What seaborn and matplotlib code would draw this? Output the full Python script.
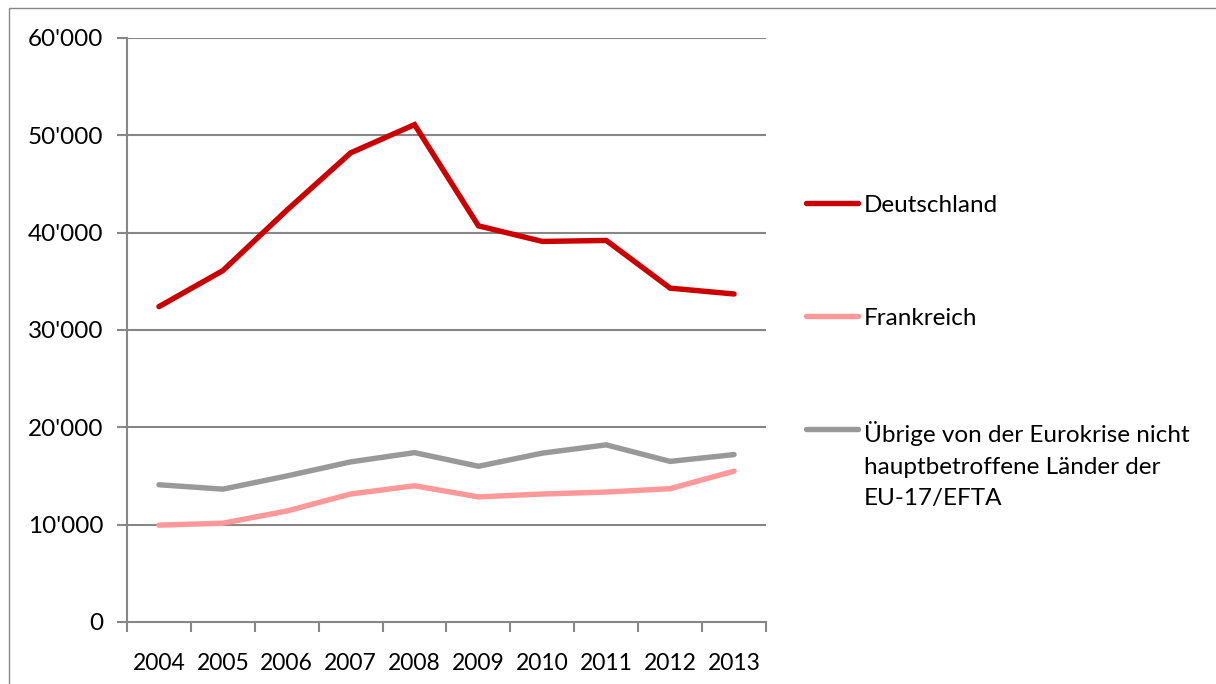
import matplotlib
matplotlib.use("Agg")
import matplotlib.pyplot as plt
from matplotlib.lines import Line2D
from matplotlib.patches import Rectangle
from matplotlib.ticker import FixedLocator, FuncFormatter
import numpy as np
import pandas as pd
import seaborn as sns

years = ["2004", "2005", "2006", "2007", "2008", "2009", "2010", "2011", "2012", "2013"]
deutschland = [32400, 36100, 42300, 48200, 51100, 40700, 39100, 39200, 34300, 33700]
frankreich = [9950, 10150, 11400, 13150, 14000, 12850, 13150, 13350, 13700, 15500]
uebrige = [14100, 13650, 15000, 16450, 17400, 16000, 17350, 18200, 16500, 17200]

series_names = [
    "Deutschland",
    "Frankreich",
    "Übrige von der Eurokrise nicht\nhauptbetroffene Länder der\nEU-17/EFTA",
]
series_values = [deutschland, frankreich, uebrige]
colors = ["#CC0000", "#FF9999", "#999999"]
y_ticks = [0, 10000, 20000, 30000, 40000, 50000, 60000]

sns.set_theme(style="white")
plt.rcParams["font.family"] = ["Lato", "DejaVu Sans"]

rows = []
for name, vals in zip(series_names, series_values):
    for i, v in enumerate(vals):
        rows.append({"pos": i, "value": v, "series": name})
df = pd.DataFrame(rows)

fig = plt.figure(figsize=(12.16, 6.84), dpi=100)
ax = fig.add_axes([127 / 1216, 1 - 622 / 684, (766 - 127) / 1216, (622 - 38) / 684])

grid_c = "#878787"
for t in y_ticks[1:]:
    ax.axhline(t, color=grid_c, lw=1.5, zorder=1)

sns.lineplot(data=df, x="pos", y="value", hue="series", hue_order=series_names,
             palette=colors, linewidth=3.9, ax=ax, legend=False, zorder=3,
             solid_capstyle="round", solid_joinstyle="miter")

ax.set_xlim(-0.5, len(years) - 0.5)
ax.set_ylim(0, 60000)
ax.xaxis.set_major_locator(FixedLocator(np.arange(-0.5, len(years), 1.0)))
ax.xaxis.set_minor_locator(FixedLocator(np.arange(len(years))))
ax.xaxis.set_major_formatter(FuncFormatter(lambda v, p: ""))
ax.xaxis.set_minor_formatter(FuncFormatter(lambda v, p: years[int(round(v))]))
ax.set_yticks(y_ticks)
ax.yaxis.set_major_formatter(FuncFormatter(lambda v, p: "0" if v == 0 else f"{int(v):,}".replace(",", "'")))

ax.tick_params(axis="x", which="major", direction="out", length=7, width=1.5, color=grid_c, bottom=True)
ax.tick_params(axis="x", which="minor", length=0, pad=22, labelsize=16.5, labelcolor="black")
ax.tick_params(axis="y", which="major", direction="out", length=7, width=1.5, color=grid_c,
               left=True, pad=10, labelsize=17.5, labelcolor="black")

for side in ["top", "right"]:
    ax.spines[side].set_visible(False)
for side in ["left", "bottom"]:
    ax.spines[side].set_color(grid_c)
    ax.spines[side].set_linewidth(1.5)
ax.set_xlabel("")
ax.set_ylabel("")

# legend built by hand so each handle sits on the first text line
W, H = 1216, 684
legend_y = [203, 316, 429]
for name, c, yy in zip(series_names, colors, legend_y):
    fig.add_artist(Line2D([806 / W, 858 / W], [1 - yy / H, 1 - yy / H], transform=fig.transFigure,
                          color=c, lw=3.9, solid_capstyle="round"))
    fig.text(864 / W, 1 - (yy - 8) / H, name, fontsize=17.5, va="top", ha="left",
             linespacing=1.62, color="black")

# chart area border
fig.add_artist(Rectangle((9 / W, -0.1), 1.2, 1 - 8 / H + 0.1, transform=fig.transFigure,
                         fill=False, edgecolor="#888888", lw=1.0))

fig.savefig("out.png", dpi=100, facecolor="white")
